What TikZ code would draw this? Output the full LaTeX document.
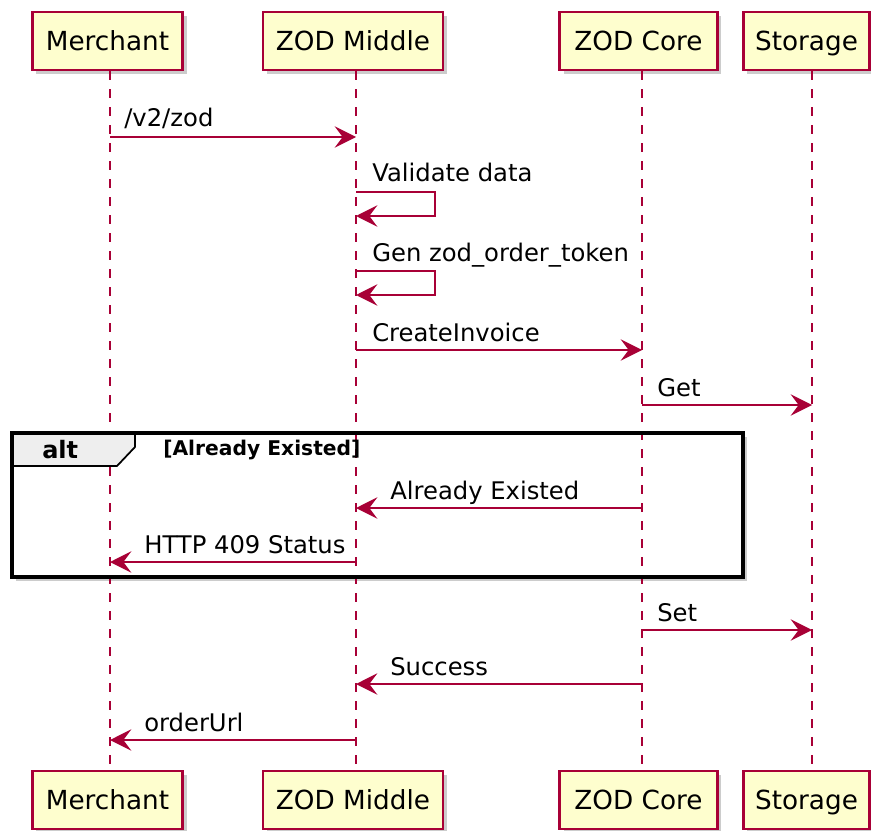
\documentclass[tikz,border=0pt]{standalone}
\usepackage{fontspec}
\setmainfont{DejaVu Sans}
\usetikzlibrary{arrows.meta,shadows}
\definecolor{pumlred}{HTML}{A80036}
\definecolor{pumlfill}{HTML}{FEFECE}
\definecolor{tabgray}{HTML}{EEEEEE}
\tikzset{
  part/.style={draw=pumlred, fill=pumlfill, line width=2.1pt, minimum height=43.5pt, inner sep=0pt,
    text height=14.5pt, text depth=0pt,
    font=\fontsize{19.7pt}{22pt}\selectfont,
    drop shadow={shadow xshift=3pt, shadow yshift=-3pt, opacity=0.4}},
  life/.style={draw=pumlred, line width=1.4pt, dash pattern=on 6.75pt off 6.75pt},
  msg/.style={draw=pumlred, line width=1.4pt, -{Stealth[length=16pt,width=16pt,inset=6pt]}},
  lbl/.style={anchor=base west, inner sep=0pt, font=\fontsize{18.2pt}{21pt}\selectfont},
  framebg/.style={fill=white, drop shadow={shadow xshift=3pt, shadow yshift=-3pt, opacity=0.4}},
}
\begin{document}
\begin{tikzpicture}[x=0.75pt,y=-0.75pt]
\useasboundingbox (0,0) rectangle (871,831);
% alt frame background with shadow
\path[framebg] (12,433) rectangle (743,577);
% participants
\node[part, minimum width=113pt] (merT) at (107.5,41) {Merchant};
\node[part, minimum width=135pt] (midT) at (353,41) {ZOD Middle};
\node[part, minimum width=118pt] (coreT) at (638.5,41) {ZOD Core};
\node[part, minimum width=95pt] (stoT) at (806.5,41) {Storage};
\node[part, minimum width=113pt] (merB) at (107.5,800) {Merchant};
\node[part, minimum width=135pt] (midB) at (353,800) {ZOD Middle};
\node[part, minimum width=118pt] (coreB) at (638.5,800) {ZOD Core};
\node[part, minimum width=95pt] (stoB) at (806.5,800) {Storage};
% lifeline x positions
\coordinate (LM) at (110,0);
\coordinate (LMid) at (356,0);
\coordinate (LC) at (642,0);
\coordinate (LS) at (812,0);
\draw[life] (merT.south -| LM) -- (merB.north -| LM);
\draw[life] (midT.south -| LMid) -- (midB.north -| LMid);
\draw[life] (coreT.south -| LC) -- (coreB.north -| LC);
\draw[life] (stoT.south -| LS) -- (stoB.north -| LS);
% alt frame
\filldraw[fill=tabgray, draw=black, line width=1.3pt] (12,433) -- (135,433) -- (135,447) -- (117,466) -- (12,466) -- cycle;
\draw[line width=3.2pt] (12,433) rectangle (743,577);
\node[anchor=base west, inner sep=0pt, font=\fontsize{18pt}{20pt}\selectfont\bfseries] (alttag) at (42,458) {alt};
\node[anchor=base west, inner sep=0pt, font=\fontsize{15.2pt}{17pt}\selectfont\bfseries] (altcond) at (163,455) {[Already Existed]};
% messages
\draw[msg] (LM |- 0,137) -- (LMid |- 0,137);
\node[lbl] (m1) at (124,127) {/v2/zod};
\draw[msg] (LMid |- 0,192) -- ++(79,0) -- ++(0,24) -- (LMid |- 0,216);
\node[lbl] (m2) at (372,182) {Validate data};
\draw[msg] (LMid |- 0,271) -- ++(79,0) -- ++(0,24) -- (LMid |- 0,295);
\node[lbl] (m3) at (372,261) {Gen zod\_order\_token};
\draw[msg] (LMid |- 0,350) -- (LC |- 0,350);
\node[lbl] (m4) at (372,341) {CreateInvoice};
\draw[msg] (LC |- 0,405) -- (LS |- 0,405);
\node[lbl] (m5) at (657,396) {Get};
\draw[msg] (LC |- 0,508) -- (LMid |- 0,508);
\node[lbl] (m6) at (390,499) {Already Existed};
\draw[msg] (LMid |- 0,562) -- (LM |- 0,562);
\node[lbl] (m7) at (144,553) {HTTP 409 Status};
\draw[msg] (LC |- 0,630) -- (LS |- 0,630);
\node[lbl] (m8) at (657,621) {Set};
\draw[msg] (LC |- 0,684) -- (LMid |- 0,684);
\node[lbl] (m9) at (390,675) {Success};
\draw[msg] (LMid |- 0,740) -- (LM |- 0,740);
\node[lbl] (m10) at (144,731) {orderUrl};
\end{tikzpicture}
\end{document}
